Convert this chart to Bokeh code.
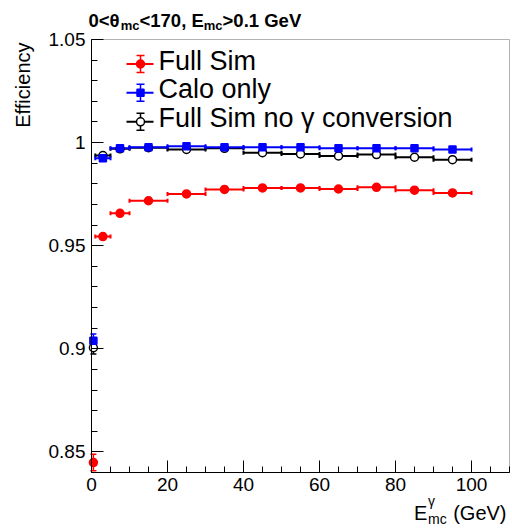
import math
from bokeh.plotting import figure
from bokeh.models import (Range1d, FixedTicker, Label, Whisker, TeeHead, ColumnDataSource,
                          BoxAnnotation)
from bokeh.embed import file_html
from bokeh.resources import INLINE

# ---------------- data ----------------
bin_low = [0, 1, 5, 10, 20, 30, 40, 50, 60, 70, 80, 90]
bin_high = [1, 5, 10, 20, 30, 40, 50, 60, 70, 80, 90, 100]

full_sim = [0.8448, 0.9544, 0.9657, 0.9718, 0.9751, 0.9773, 0.9780, 0.9780, 0.9775, 0.9783, 0.9769, 0.9756]
full_sim_err = [0.0040, 0.0008, 0.0006, 0.0004, 0.0004, 0.0004, 0.0004, 0.0004, 0.0004, 0.0004, 0.0004, 0.0004]

calo_only = [0.9039, 0.9924, 0.9972, 0.9977, 0.9982, 0.9977, 0.9977, 0.9977, 0.9972, 0.9972, 0.9972, 0.9966]
calo_only_err = [0.0033, 0.0006, 0.0003, 0.0002, 0.0002, 0.0002, 0.0002, 0.0002, 0.0002, 0.0002, 0.0002, 0.0002]

no_conv = [0.9005, 0.9937, 0.9970, 0.9975, 0.9967, 0.9972, 0.9951, 0.9945, 0.9935, 0.9942, 0.9929, 0.9917]
no_conv_err = [0.0030, 0.0006, 0.0003, 0.0002, 0.0002, 0.0002, 0.0003, 0.0003, 0.0003, 0.0003, 0.0003, 0.0003]

x_ticks = [0, 20, 40, 60, 80, 100]
y_ticks = [0.85, 0.9, 0.95, 1.0, 1.05]
y_tick_labels = ["0.85", "0.9", "0.95", "1", "1.05"]
series_labels = ["Full Sim", "Calo only", "Full Sim no \u03b3 conversion"]

X0, X1 = 0, 110
Y0, Y1 = 0.84, 1.05

# ---------------- layout (pixels) ----------------
W, H = 512, 530
FL, FT, FW, FH = 91, 39, 418, 433   # visible data box
BL = 0.35                            # baseline correction (fraction of font size)

xs = X0 - FL * (X1 - X0) / FW
xe = X1 + (W - FL - FW) * (X1 - X0) / FW
ye = Y1 + FT * (Y1 - Y0) / FH
ys = Y0 - (H - FT - FH) * (Y1 - Y0) / FH


def dx(px):
    return X0 + (px - FL) / FW * (X1 - X0)


def dy(py):
    return Y1 - (py - FT) / FH * (Y1 - Y0)


def text_at(px, baseline_py, txt, size, bold=False, align="left"):
    p.add_layout(Label(x=dx(px), y=dy(baseline_py - BL * size), text=txt,
                       text_font="Liberation Sans", text_font_style="bold" if bold else "normal",
                       text_font_size=f"{size}px", text_color="black",
                       text_baseline="alphabetic", text_align=align))


p = figure(width=W, height=H, x_range=Range1d(xs, xe), y_range=Range1d(ys, ye),
           output_backend="svg", toolbar_location=None, title=None,
           min_border_left=0, min_border_right=0, min_border_top=0, min_border_bottom=0)
p.grid.visible = False
p.outline_line_color = None
p.background_fill_color = "white"
p.border_fill_color = "white"

p.xaxis.ticker = FixedTicker(ticks=x_ticks, minor_ticks=list(range(0, 111, 5)))
p.yaxis.ticker = FixedTicker(ticks=y_ticks, minor_ticks=[round(0.84 + 0.01 * i, 2) for i in range(22)])
p.yaxis.major_label_overrides = dict(zip(y_ticks, y_tick_labels))
p.xaxis.fixed_location = Y0
p.xaxis.bounds = (X0, X1)
p.yaxis.fixed_location = X0
p.yaxis.bounds = (Y0, Y1)

for ax in (p.xaxis[0], p.yaxis[0]):
    ax.major_tick_in = 12
    ax.major_tick_out = 0
    ax.minor_tick_in = 6
    ax.minor_tick_out = 0
    ax.axis_line_color = "black"
    ax.major_tick_line_color = "black"
    ax.minor_tick_line_color = "black"
    ax.major_label_text_font = "Liberation Sans"
    ax.major_label_text_font_size = "19px"
    ax.major_label_text_color = "black"
p.yaxis.major_label_standoff = 6
p.xaxis.major_label_standoff = 5

p.add_layout(BoxAnnotation(left=X0, right=X1, bottom=Y0, top=Y1, fill_alpha=0,
                           fill_color=None, line_color="black", line_width=1))

centers = [(a + b) / 2 for a, b in zip(bin_low, bin_high)]


def draw_series(vals, errs, color, marker, size, fill):
    src = ColumnDataSource(dict(
        x=centers, y=vals, lo=bin_low, hi=bin_high,
        ylo=[v - e for v, e in zip(vals, errs)],
        yhi=[v + e for v, e in zip(vals, errs)],
    ))
    p.add_layout(Whisker(source=src, base="y", lower="lo", upper="hi", dimension="width",
                         line_color=color, line_width=2,
                         lower_head=TeeHead(size=4, line_color=color, line_width=2),
                         upper_head=TeeHead(size=4, line_color=color, line_width=2)))
    p.add_layout(Whisker(source=src, base="x", lower="ylo", upper="yhi", dimension="height",
                         line_color=color, line_width=1.5,
                         lower_head=TeeHead(size=6, line_color=color, line_width=1.5),
                         upper_head=TeeHead(size=6, line_color=color, line_width=1.5)))
    p.scatter("x", "y", source=src, marker=marker, size=size, line_color=color,
              fill_color=fill, line_width=1.5)


draw_series(full_sim, full_sim_err, "#ff0000", "circle", 8, "#ff0000")
draw_series(no_conv, no_conv_err, "#000000", "circle", 8, "white")
draw_series(calo_only, calo_only_err, "#0000ff", "square", 7, "#0000ff")

# ---------------- legend ----------------
leg_styles = [("#ff0000", "circle", 8, "#ff0000"),
              ("#0000ff", "square", 7, "#0000ff"),
              ("#000000", "circle", 8, "white")]
leg_base = [69.5, 98.3, 127.3]
for lab, (col, mk, sz, fill), yb in zip(series_labels, leg_styles, leg_base):
    ym = yb - 6
    p.segment(x0=[dx(126)], y0=[dy(ym)], x1=[dx(153)], y1=[dy(ym)], line_color=col, line_width=2)
    lsrc = ColumnDataSource(dict(x=[dx(140)], lo=[dy(ym + 8.5)], hi=[dy(ym - 8.5)]))
    p.add_layout(Whisker(source=lsrc, base="x", lower="lo", upper="hi", dimension="height",
                         line_color=col, line_width=1.5,
                         lower_head=TeeHead(size=8, line_color=col, line_width=1.5),
                         upper_head=TeeHead(size=8, line_color=col, line_width=1.5)))
    p.scatter(x=[dx(140)], y=[dy(ym)], marker=mk, size=sz, line_color=col, fill_color=fill, line_width=1.5)
    text_at(158, yb, lab, 27)

# ---------------- title (bold, with subscripts) ----------------
BOLD = {'0': .556, '1': .556, '7': .556, '<': .584, '>': .584, ',': .278, ' ': .278, '.': .278,
        'E': .667, 'G': .778, 'e': .556, 'V': .667, 'm': .889, 'c': .556, '\u03b8': .60}


def wid(s, size, table):
    return sum(table.get(ch, 0.556) for ch in s) * size


title_parts = [("0<\u03b8", 18.5, 0), ("mc", 13, 3.5), ("<170, E", 18.5, 0), ("mc", 13, 3.5),
               (">0.1 GeV", 18.5, 0)]
tx = 88
for txt, sz, off in title_parts:
    text_at(tx, 26 + off, txt, sz, bold=True)
    tx += wid(txt, sz, BOLD)

# ---------------- axis titles ----------------
p.add_layout(Label(x=dx(29 - BL * 20), y=dy(42), text="Efficiency", angle=math.pi / 2,
                   text_align="right", text_baseline="alphabetic", text_font="Liberation Sans",
                   text_font_size="20px", text_color="black"))

text_at(413.5, 519, "E", 20)
text_at(427.5, 505, "\u03b3", 14)
text_at(427.5, 523, "mc", 14)
text_at(506, 519, "(GeV)", 20, align="right")

open("out.html", "w").write(file_html(p, INLINE))
